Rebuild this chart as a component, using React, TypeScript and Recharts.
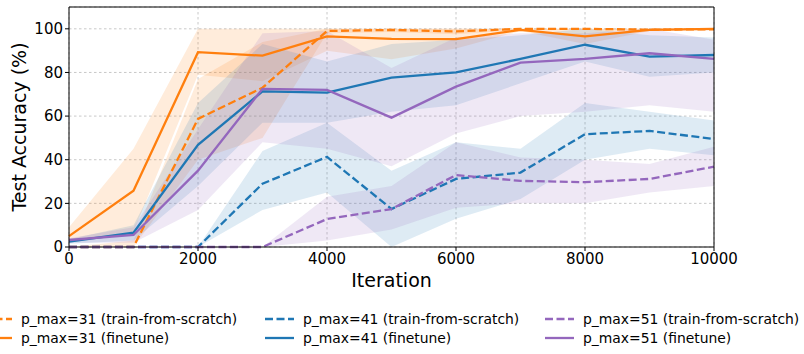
import { ComposedChart, Line, Area, XAxis, YAxis, CartesianGrid, ReferenceLine } from 'recharts';

const iterations = [0, 1000, 2000, 3000, 4000, 5000, 6000, 7000, 8000, 9000, 10000];

// mean accuracy curves
const p31Scratch = [0, 0, 58.7, 73, 99, 99.5, 98.8, 100, 100, 99.6, 99.8];
const p31Finetune = [5, 25.8, 89.3, 87.7, 96.5, 95.4, 95.3, 99.5, 96.5, 99.5, 100];
const p41Scratch = [0, 0, 0, 29, 41.3, 17.4, 31.2, 34.1, 51.7, 53.2, 49.5];
const p41Finetune = [2.5, 6.6, 46.8, 71.3, 70.8, 77.6, 80, 86.2, 92.7, 87.3, 88];
const p51Scratch = [0, 0, 0, 0, 12.8, 17.4, 33, 30.3, 29.7, 31.2, 36.8];
const p51Finetune = [3.2, 5.5, 35, 72.5, 72, 59.3, 73.5, 84.5, 86.2, 88.8, 86.2];

// shaded spread (low / high)
const p31ScratchLo = [0, 0, 40, 50, 98, 98.5, 97.5, 99.5, 99.5, 99, 99.5];
const p31ScratchHi = [0, 3, 77, 94, 100, 100, 100, 100, 100, 100, 100];
const p31FinetuneLo = [2, 7, 79, 76, 90, 86, 91, 99, 93, 99, 100];
const p31FinetuneHi = [9, 45, 100, 100, 100, 100, 100, 100, 100, 100, 100];
const p41ScratchLo = [0, 0, 0, 17, 25, 0, 13, 22, 40, 45, 42];
const p41ScratchHi = [0, 0, 0, 44, 57, 35, 48, 45, 66, 62, 58];
const p41FinetuneLo = [1.5, 3, 28, 57, 57, 62, 65, 75, 85, 78, 80];
const p41FinetuneHi = [3.5, 10, 66, 93, 85, 93, 95, 97, 100, 97, 96];
const p51ScratchLo = [0, 0, 0, 0, 3, 8, 18, 20, 20, 25, 28];
const p51ScratchHi = [0, 0, 0, 0, 23, 28, 48, 41, 40, 38, 46];
const p51FinetuneLo = [2, 2, 17, 48, 45, 37, 52, 60, 62, 65, 62];
const p51FinetuneHi = [4, 9, 54, 98, 99, 82, 96, 98, 98, 100, 95];

const xTicks = [0, 2000, 4000, 6000, 8000, 10000];
const yTicks = [0, 20, 40, 60, 80, 100];

const ORANGE = '#ff7f0e';
const BLUE = '#1f77b4';
const PURPLE = '#9467bd';
const FONT = '"DejaVu Sans", sans-serif';

const data = iterations.map((it, i) => ({
    it,
    s31: p31Scratch[i],
    f31: p31Finetune[i],
    s41: p41Scratch[i],
    f41: p41Finetune[i],
    s51: p51Scratch[i],
    f51: p51Finetune[i],
    bs31: [p31ScratchLo[i], p31ScratchHi[i]],
    bf31: [p31FinetuneLo[i], p31FinetuneHi[i]],
    bs41: [p41ScratchLo[i], p41ScratchHi[i]],
    bf41: [p41FinetuneLo[i], p41FinetuneHi[i]],
    bs51: [p51ScratchLo[i], p51ScratchHi[i]],
    bf51: [p51FinetuneLo[i], p51FinetuneHi[i]],
}));

const legendItems = [
    { label: 'p_max=31 (train-from-scratch)', color: ORANGE, dashed: true, left: -17, top: 310 },
    { label: 'p_max=31 (finetune)', color: ORANGE, dashed: false, left: -17, top: 329 },
    { label: 'p_max=41 (train-from-scratch)', color: BLUE, dashed: true, left: 265, top: 310 },
    { label: 'p_max=41 (finetune)', color: BLUE, dashed: false, left: 265, top: 329 },
    { label: 'p_max=51 (train-from-scratch)', color: PURPLE, dashed: true, left: 545, top: 310 },
    { label: 'p_max=51 (finetune)', color: PURPLE, dashed: false, left: 545, top: 329 },
];

const bands = [
    { key: 'bs31', color: ORANGE },
    { key: 'bf31', color: ORANGE },
    { key: 'bs41', color: BLUE },
    { key: 'bf41', color: BLUE },
    { key: 'bs51', color: PURPLE },
    { key: 'bf51', color: PURPLE },
];

const lines = [
    { key: 's31', color: ORANGE, dashed: true },
    { key: 'f31', color: ORANGE, dashed: false },
    { key: 's41', color: BLUE, dashed: true },
    { key: 'f41', color: BLUE, dashed: false },
    { key: 's51', color: PURPLE, dashed: true },
    { key: 'f51', color: PURPLE, dashed: false },
];

export default function App() {
    return (
        <div style={{ position: 'absolute', left: 0, top: 0, width: 804, height: 354, overflow: 'hidden', background: '#fff' }}>
            <ComposedChart
                width={804}
                height={354}
                data={data}
                margin={{ top: 7, right: 90, bottom: 0, left: 0 }}
            >
                <CartesianGrid stroke="#b0b0b0" strokeDasharray="2.5 2.5" strokeOpacity={0.7} />
                <XAxis
                    dataKey="it"
                    type="number"
                    domain={[0, 10000]}
                    ticks={xTicks}
                    height={107}
                    tickSize={4}
                    tick={{ fill: '#000', fontSize: 15, fontFamily: FONT }}
                    stroke="#000"
                    tickLine={{ stroke: '#000' }}
                    label={{
                        content: () => (
                            <text x={391.5} y={287} textAnchor="middle" fontSize={19} fontFamily={FONT} fill="#000">
                                Iteration
                            </text>
                        ),
                    }}
                />
                <YAxis
                    type="number"
                    domain={[0, 110]}
                    ticks={yTicks}
                    width={69}
                    tickSize={4}
                    tick={{ fill: '#000', fontSize: 15, fontFamily: FONT }}
                    stroke="#000"
                    tickLine={{ stroke: '#000' }}
                    label={{
                        content: () => (
                            <text
                                x={26}
                                y={127}
                                transform="rotate(-90 26 127)"
                                textAnchor="middle"
                                fontSize={19}
                                fontFamily={FONT}
                                fill="#000"
                            >
                                Test Accuracy (%)
                            </text>
                        ),
                    }}
                />
                {bands.map((b) => (
                    <Area
                        key={b.key}
                        dataKey={b.key}
                        type="linear"
                        stroke="none"
                        fill={b.color}
                        fillOpacity={0.15}
                        isAnimationActive={false}
                        activeDot={false}
                    />
                ))}
                {lines.map((l) => (
                    <Line
                        key={l.key}
                        dataKey={l.key}
                        type="linear"
                        stroke={l.color}
                        strokeWidth={2.3}
                        strokeDasharray={l.dashed ? '8 3.5' : undefined}
                        dot={false}
                        activeDot={false}
                        isAnimationActive={false}
                    />
                ))}
                <ReferenceLine y={110} stroke="#000" strokeWidth={1} />
                <ReferenceLine x={10000} stroke="#000" strokeWidth={1} />
            </ComposedChart>
            {legendItems.map((item) => (
                <div
                    key={item.label}
                    style={{
                        position: 'absolute',
                        left: item.left,
                        top: item.top,
                        display: 'flex',
                        alignItems: 'center',
                        fontFamily: FONT,
                        fontSize: 13.9,
                        color: '#000',
                        whiteSpace: 'nowrap',
                        height: 18,
                    }}
                >
                    <svg width={29} height={18} style={{ marginRight: 9 }}>
                        <line
                            x1={0}
                            y1={9}
                            x2={29}
                            y2={9}
                            stroke={item.color}
                            strokeWidth={2.3}
                            strokeDasharray={item.dashed ? '8 3.5' : undefined}
                        />
                    </svg>
                    <span>{item.label}</span>
                </div>
            ))}
        </div>
    );
}
